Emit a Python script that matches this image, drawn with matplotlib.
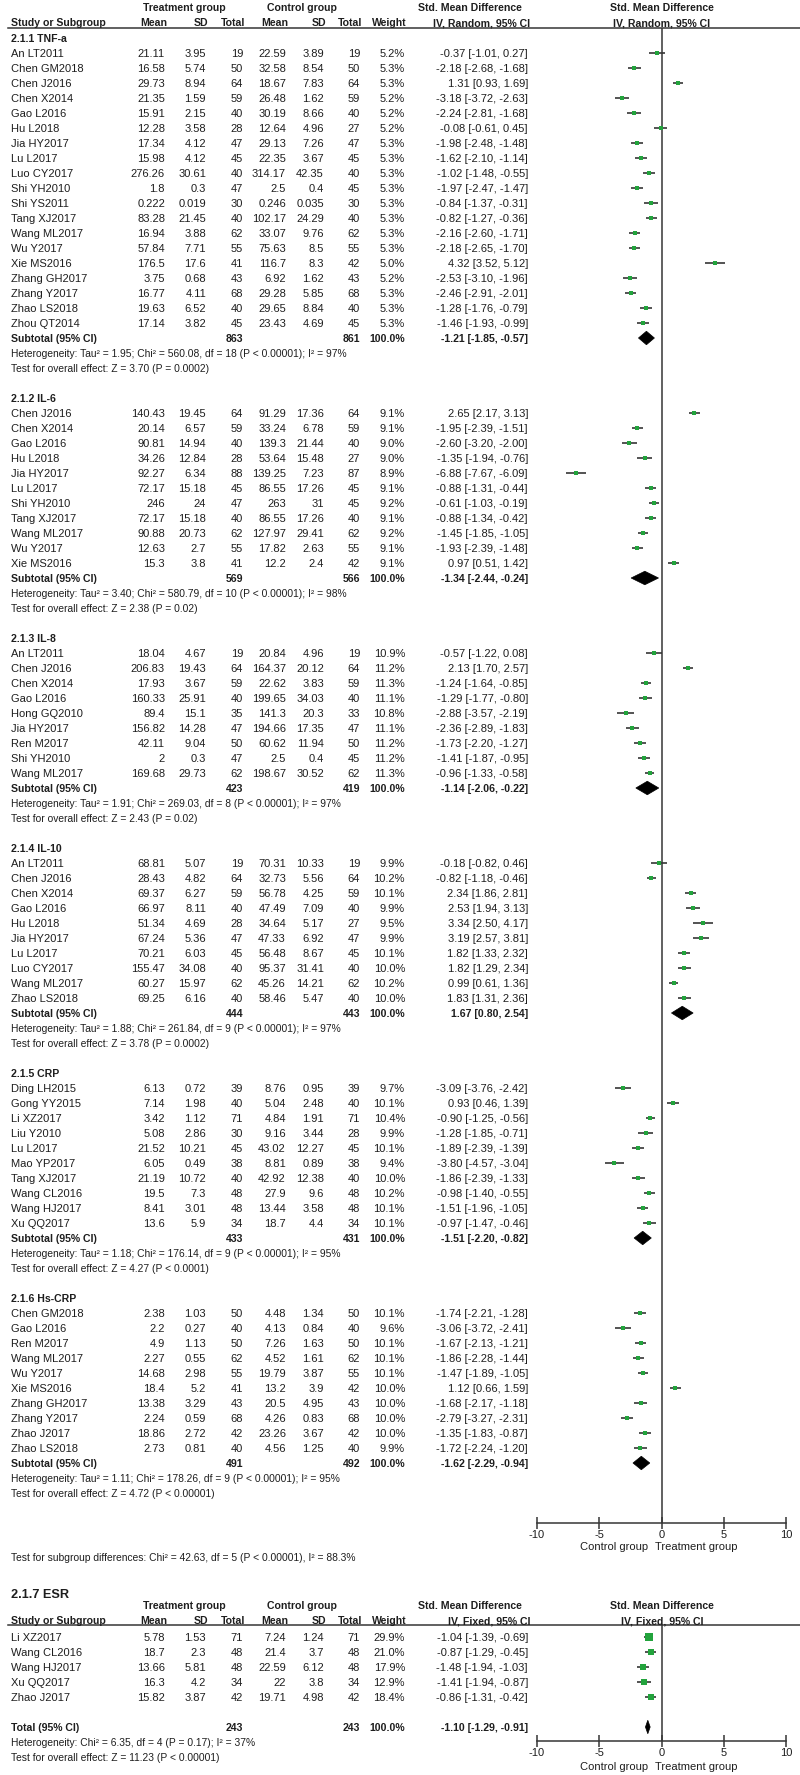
import numpy as np
import matplotlib.pyplot as plt
from matplotlib.patches import Polygon

plt.rcParams['font.family'] = ['Liberation Sans', 'DejaVu Sans']
plt.rcParams['axes.unicode_minus'] = False

# ---------------- data ----------------
# each study: treatment (mean, sd, n), control (mean, sd, n), weight %, smd (est, lo, hi)
tnf_studies = ["An LT2011", "Chen GM2018", "Chen J2016", "Chen X2014", "Gao L2016", "Hu L2018",
               "Jia HY2017", "Lu L2017", "Luo CY2017", "Shi YH2010", "Shi YS2011", "Tang XJ2017",
               "Wang ML2017", "Wu Y2017", "Xie MS2016", "Zhang GH2017", "Zhang Y2017",
               "Zhao LS2018", "Zhou QT2014"]
tnf_treat = [(21.11, 3.95, 19), (16.58, 5.74, 50), (29.73, 8.94, 64), (21.35, 1.59, 59),
             (15.91, 2.15, 40), (12.28, 3.58, 28), (17.34, 4.12, 47), (15.98, 4.12, 45),
             (276.26, 30.61, 40), (1.8, 0.3, 47), (0.222, 0.019, 30), (83.28, 21.45, 40),
             (16.94, 3.88, 62), (57.84, 7.71, 55), (176.5, 17.6, 41), (3.75, 0.68, 43),
             (16.77, 4.11, 68), (19.63, 6.52, 40), (17.14, 3.82, 45)]
tnf_ctrl = [(22.59, 3.89, 19), (32.58, 8.54, 50), (18.67, 7.83, 64), (26.48, 1.62, 59),
            (30.19, 8.66, 40), (12.64, 4.96, 27), (29.13, 7.26, 47), (22.35, 3.67, 45),
            (314.17, 42.35, 40), (2.5, 0.4, 45), (0.246, 0.035, 30), (102.17, 24.29, 40),
            (33.07, 9.76, 62), (75.63, 8.5, 55), (116.7, 8.3, 42), (6.92, 1.62, 43),
            (29.28, 5.85, 68), (29.65, 8.84, 40), (23.43, 4.69, 45)]
tnf_weight = [5.2, 5.3, 5.3, 5.2, 5.2, 5.2, 5.3, 5.3, 5.3, 5.3, 5.3, 5.3, 5.3, 5.3, 5.0, 5.2, 5.3, 5.3, 5.3]
tnf_smd = [(-0.37, -1.01, 0.27), (-2.18, -2.68, -1.68), (1.31, 0.93, 1.69), (-3.18, -3.72, -2.63),
           (-2.24, -2.81, -1.68), (-0.08, -0.61, 0.45), (-1.98, -2.48, -1.48), (-1.62, -2.10, -1.14),
           (-1.02, -1.48, -0.55), (-1.97, -2.47, -1.47), (-0.84, -1.37, -0.31), (-0.82, -1.27, -0.36),
           (-2.16, -2.60, -1.71), (-2.18, -2.65, -1.70), (4.32, 3.52, 5.12), (-2.53, -3.10, -1.96),
           (-2.46, -2.91, -2.01), (-1.28, -1.76, -0.79), (-1.46, -1.93, -0.99)]
tnf_sub = (863, 861, -1.21, -1.85, -0.57)
tnf_het = "Tau² = 1.95; Chi² = 560.08, df = 18 (P < 0.00001); I² = 97%"
tnf_z = "Z = 3.70 (P = 0.0002)"

il6_studies = ["Chen J2016", "Chen X2014", "Gao L2016", "Hu L2018", "Jia HY2017", "Lu L2017",
               "Shi YH2010", "Tang XJ2017", "Wang ML2017", "Wu Y2017", "Xie MS2016"]
il6_treat = [(140.43, 19.45, 64), (20.14, 6.57, 59), (90.81, 14.94, 40), (34.26, 12.84, 28),
             (92.27, 6.34, 88), (72.17, 15.18, 45), (246, 24, 47), (72.17, 15.18, 40),
             (90.88, 20.73, 62), (12.63, 2.7, 55), (15.3, 3.8, 41)]
il6_ctrl = [(91.29, 17.36, 64), (33.24, 6.78, 59), (139.3, 21.44, 40), (53.64, 15.48, 27),
            (139.25, 7.23, 87), (86.55, 17.26, 45), (263, 31, 45), (86.55, 17.26, 40),
            (127.97, 29.41, 62), (17.82, 2.63, 55), (12.2, 2.4, 42)]
il6_weight = [9.1, 9.1, 9.0, 9.0, 8.9, 9.1, 9.2, 9.1, 9.2, 9.1, 9.1]
il6_smd = [(2.65, 2.17, 3.13), (-1.95, -2.39, -1.51), (-2.60, -3.20, -2.00), (-1.35, -1.94, -0.76),
           (-6.88, -7.67, -6.09), (-0.88, -1.31, -0.44), (-0.61, -1.03, -0.19), (-0.88, -1.34, -0.42),
           (-1.45, -1.85, -1.05), (-1.93, -2.39, -1.48), (0.97, 0.51, 1.42)]
il6_sub = (569, 566, -1.34, -2.44, -0.24)
il6_het = "Tau² = 3.40; Chi² = 580.79, df = 10 (P < 0.00001); I² = 98%"
il6_z = "Z = 2.38 (P = 0.02)"

il8_studies = ["An LT2011", "Chen J2016", "Chen X2014", "Gao L2016", "Hong GQ2010", "Jia HY2017",
               "Ren M2017", "Shi YH2010", "Wang ML2017"]
il8_treat = [(18.04, 4.67, 19), (206.83, 19.43, 64), (17.93, 3.67, 59), (160.33, 25.91, 40),
             (89.4, 15.1, 35), (156.82, 14.28, 47), (42.11, 9.04, 50), (2, 0.3, 47),
             (169.68, 29.73, 62)]
il8_ctrl = [(20.84, 4.96, 19), (164.37, 20.12, 64), (22.62, 3.83, 59), (199.65, 34.03, 40),
            (141.3, 20.3, 33), (194.66, 17.35, 47), (60.62, 11.94, 50), (2.5, 0.4, 45),
            (198.67, 30.52, 62)]
il8_weight = [10.9, 11.2, 11.3, 11.1, 10.8, 11.1, 11.2, 11.2, 11.3]
il8_smd = [(-0.57, -1.22, 0.08), (2.13, 1.70, 2.57), (-1.24, -1.64, -0.85), (-1.29, -1.77, -0.80),
           (-2.88, -3.57, -2.19), (-2.36, -2.89, -1.83), (-1.73, -2.20, -1.27), (-1.41, -1.87, -0.95),
           (-0.96, -1.33, -0.58)]
il8_sub = (423, 419, -1.14, -2.06, -0.22)
il8_het = "Tau² = 1.91; Chi² = 269.03, df = 8 (P < 0.00001); I² = 97%"
il8_z = "Z = 2.43 (P = 0.02)"

il10_studies = ["An LT2011", "Chen J2016", "Chen X2014", "Gao L2016", "Hu L2018", "Jia HY2017",
                "Lu L2017", "Luo CY2017", "Wang ML2017", "Zhao LS2018"]
il10_treat = [(68.81, 5.07, 19), (28.43, 4.82, 64), (69.37, 6.27, 59), (66.97, 8.11, 40),
              (51.34, 4.69, 28), (67.24, 5.36, 47), (70.21, 6.03, 45), (155.47, 34.08, 40),
              (60.27, 15.97, 62), (69.25, 6.16, 40)]
il10_ctrl = [(70.31, 10.33, 19), (32.73, 5.56, 64), (56.78, 4.25, 59), (47.49, 7.09, 40),
             (34.64, 5.17, 27), (47.33, 6.92, 47), (56.48, 8.67, 45), (95.37, 31.41, 40),
             (45.26, 14.21, 62), (58.46, 5.47, 40)]
il10_weight = [9.9, 10.2, 10.1, 9.9, 9.5, 9.9, 10.1, 10.0, 10.2, 10.0]
il10_smd = [(-0.18, -0.82, 0.46), (-0.82, -1.18, -0.46), (2.34, 1.86, 2.81), (2.53, 1.94, 3.13),
            (3.34, 2.50, 4.17), (3.19, 2.57, 3.81), (1.82, 1.33, 2.32), (1.82, 1.29, 2.34),
            (0.99, 0.61, 1.36), (1.83, 1.31, 2.36)]
il10_sub = (444, 443, 1.67, 0.80, 2.54)
il10_het = "Tau² = 1.88; Chi² = 261.84, df = 9 (P < 0.00001); I² = 97%"
il10_z = "Z = 3.78 (P = 0.0002)"

crp_studies = ["Ding LH2015", "Gong YY2015", "Li XZ2017", "Liu Y2010", "Lu L2017", "Mao YP2017",
               "Tang XJ2017", "Wang CL2016", "Wang HJ2017", "Xu QQ2017"]
crp_treat = [(6.13, 0.72, 39), (7.14, 1.98, 40), (3.42, 1.12, 71), (5.08, 2.86, 30),
             (21.52, 10.21, 45), (6.05, 0.49, 38), (21.19, 10.72, 40), (19.5, 7.3, 48),
             (8.41, 3.01, 48), (13.6, 5.9, 34)]
crp_ctrl = [(8.76, 0.95, 39), (5.04, 2.48, 40), (4.84, 1.91, 71), (9.16, 3.44, 28),
            (43.02, 12.27, 45), (8.81, 0.89, 38), (42.92, 12.38, 40), (27.9, 9.6, 48),
            (13.44, 3.58, 48), (18.7, 4.4, 34)]
crp_weight = [9.7, 10.1, 10.4, 9.9, 10.1, 9.4, 10.0, 10.2, 10.1, 10.1]
crp_smd = [(-3.09, -3.76, -2.42), (0.93, 0.46, 1.39), (-0.90, -1.25, -0.56), (-1.28, -1.85, -0.71),
           (-1.89, -2.39, -1.39), (-3.80, -4.57, -3.04), (-1.86, -2.39, -1.33), (-0.98, -1.40, -0.55),
           (-1.51, -1.96, -1.05), (-0.97, -1.47, -0.46)]
crp_sub = (433, 431, -1.51, -2.20, -0.82)
crp_het = "Tau² = 1.18; Chi² = 176.14, df = 9 (P < 0.00001); I² = 95%"
crp_z = "Z = 4.27 (P < 0.0001)"

hscrp_studies = ["Chen GM2018", "Gao L2016", "Ren M2017", "Wang ML2017", "Wu Y2017", "Xie MS2016",
                 "Zhang GH2017", "Zhang Y2017", "Zhao J2017", "Zhao LS2018"]
hscrp_treat = [(2.38, 1.03, 50), (2.2, 0.27, 40), (4.9, 1.13, 50), (2.27, 0.55, 62),
               (14.68, 2.98, 55), (18.4, 5.2, 41), (13.38, 3.29, 43), (2.24, 0.59, 68),
               (18.86, 2.72, 42), (2.73, 0.81, 40)]
hscrp_ctrl = [(4.48, 1.34, 50), (4.13, 0.84, 40), (7.26, 1.63, 50), (4.52, 1.61, 62),
              (19.79, 3.87, 55), (13.2, 3.9, 42), (20.5, 4.95, 43), (4.26, 0.83, 68),
              (23.26, 3.67, 42), (4.56, 1.25, 40)]
hscrp_weight = [10.1, 9.6, 10.1, 10.1, 10.1, 10.0, 10.0, 10.0, 10.0, 9.9]
hscrp_smd = [(-1.74, -2.21, -1.28), (-3.06, -3.72, -2.41), (-1.67, -2.13, -1.21), (-1.86, -2.28, -1.44),
             (-1.47, -1.89, -1.05), (1.12, 0.66, 1.59), (-1.68, -2.17, -1.18), (-2.79, -3.27, -2.31),
             (-1.35, -1.83, -0.87), (-1.72, -2.24, -1.20)]
hscrp_sub = (491, 492, -1.62, -2.29, -0.94)
hscrp_het = "Tau² = 1.11; Chi² = 178.26, df = 9 (P < 0.00001); I² = 95%"
hscrp_z = "Z = 4.72 (P < 0.00001)"

subgroup_test = "Test for subgroup differences: Chi² = 42.63, df = 5 (P < 0.00001), I² = 88.3%"

esr_studies = ["Li XZ2017", "Wang CL2016", "Wang HJ2017", "Xu QQ2017", "Zhao J2017"]
esr_treat = [(5.78, 1.53, 71), (18.7, 2.3, 48), (13.66, 5.81, 48), (16.3, 4.2, 34), (15.82, 3.87, 42)]
esr_ctrl = [(7.24, 1.24, 71), (21.4, 3.7, 48), (22.59, 6.12, 48), (22, 3.8, 34), (19.71, 4.98, 42)]
esr_weight = [29.9, 21.0, 17.9, 12.9, 18.4]
esr_smd = [(-1.04, -1.39, -0.69), (-0.87, -1.29, -0.45), (-1.48, -1.94, -1.03),
           (-1.41, -1.94, -0.87), (-0.86, -1.31, -0.42)]
esr_total = (243, 243, -1.10, -1.29, -0.91)
esr_het = "Chi² = 6.35, df = 4 (P = 0.17); I² = 37%"
esr_z = "Z = 11.23 (P < 0.00001)"

ticks = [-10, -5, 0, 5, 10]

groups = [
    ("2.1.1 TNF-a", tnf_studies, tnf_treat, tnf_ctrl, tnf_weight, tnf_smd, tnf_sub, tnf_het, tnf_z),
    ("2.1.2 IL-6", il6_studies, il6_treat, il6_ctrl, il6_weight, il6_smd, il6_sub, il6_het, il6_z),
    ("2.1.3 IL-8", il8_studies, il8_treat, il8_ctrl, il8_weight, il8_smd, il8_sub, il8_het, il8_z),
    ("2.1.4 IL-10", il10_studies, il10_treat, il10_ctrl, il10_weight, il10_smd, il10_sub, il10_het, il10_z),
    ("2.1.5 CRP", crp_studies, crp_treat, crp_ctrl, crp_weight, crp_smd, crp_sub, crp_het, crp_z),
    ("2.1.6 Hs-CRP", hscrp_studies, hscrp_treat, hscrp_ctrl, hscrp_weight, hscrp_smd, hscrp_sub, hscrp_het, hscrp_z),
]

# ---------------- layout (pixels) ----------------
W, H = 800, 1775
TXT = '#1e1e1e'
GREEN = '#22a33c'
LINE = '#363636'
FS = 8.0      # study rows
FSB = 7.6     # bold header rows
FSH = 7.4     # heterogeneity lines
COLS = [165, 206, 243, 286, 324, 360, 405, 528]
X0_PX, X1_PX = 537, 786   # -10 .. 10 on the forest axis

fig = plt.figure(figsize=(W / 100, H / 100), dpi=100)
ax = fig.add_axes([0, 0, 1, 1])
ax.set_xlim(0, W)
ax.set_ylim(H, 0)
ax.axis('off')


def fmt(v):
    return f"{v:g}"


def ci_text(e, lo, hi):
    return f"{e:.2f} [{lo:.2f}, {hi:.2f}]"


def table_row(y, name, tr, ct, w, smd):
    ax.text(11, y, name, fontsize=FS, color=TXT, va='center_baseline')
    vals = [fmt(tr[0]), fmt(tr[1]), str(tr[2]), fmt(ct[0]), fmt(ct[1]), str(ct[2]),
            f"{w:.1f}%", ci_text(*smd)]
    for x, v in zip(COLS, vals):
        ax.text(x, y, v, fontsize=FS, color=TXT, ha='right', va='center_baseline')


def total_row(y, label, tot):
    ax.text(11, y, label, fontsize=FSB, color=TXT, weight='bold', va='center_baseline')
    for x, v in zip([COLS[2], COLS[5], COLS[6], COLS[7]],
                    [str(tot[0]), str(tot[1]), "100.0%", ci_text(*tot[2:])]):
        ax.text(x, y, v, fontsize=FSB, color=TXT, weight='bold', ha='right', va='center_baseline')


def header(y1, y2, yrule, method):
    kw = dict(fontsize=FSB, color=TXT, weight='bold', va='center_baseline')
    ax.text(184, y1, "Treatment group", ha='center', **kw)
    ax.text(302, y1, "Control group", ha='center', **kw)
    ax.text(470, y1, "Std. Mean Difference", ha='center', **kw)
    ax.text(662, y1, "Std. Mean Difference", ha='center', **kw)
    ax.text(11, y2, "Study or Subgroup", **kw)
    for x, t in zip(COLS, ["Mean", "SD", "Total", "Mean", "SD", "Total", "Weight", method]):
        ax.text(x + 2, y2, t, ha='right', **kw)
    ax.text(662, y2, method, ha='center', **kw)
    ax.plot([8, W], [yrule, yrule], color=LINE, lw=1.1)


def forest_axes(top_px, bottom_px, y_of_row0, pitch):
    fa = fig.add_axes([X0_PX / W, 1 - bottom_px / H, (X1_PX - X0_PX) / W, (bottom_px - top_px) / H])
    fa.set_xlim(ticks[0], ticks[-1])
    fa.set_ylim((bottom_px - y_of_row0) / pitch, (top_px - y_of_row0) / pitch)
    fa.patch.set_alpha(0)
    for s in ['top', 'right', 'left']:
        fa.spines[s].set_visible(False)
    fa.spines['bottom'].set_color(LINE)
    fa.spines['bottom'].set_linewidth(1.1)
    fa.set_yticks([])
    fa.set_xticks(ticks)
    fa.set_xticklabels([str(t) for t in ticks])
    fa.tick_params(axis='x', direction='inout', length=8, width=1.1, color=LINE,
                   labelsize=FS, labelcolor=TXT, pad=1)
    fa.axvline(0, color=LINE, lw=1.1)
    return fa


def draw_study(fa, r, w, smd):
    e, lo, hi = smd
    fa.plot([lo, hi], [r, r], color=LINE, lw=1.2, solid_capstyle='butt')
    fa.plot(e, r, marker='s', ms=2.2 + 0.12 * w, color=GREEN, mec=GREEN, mew=0)


def draw_diamond(fa, r, e, lo, hi, h=0.45):
    fa.add_patch(Polygon([[lo, r], [e, r - h], [hi, r], [e, r + h]], closed=True,
                         fc='black', ec='black', lw=0.5))


# ---------------- main analysis ----------------
ROW0, PITCH = 38, 15
header(7, 22, 28, "IV, Random, 95% CI")
fmain = forest_axes(28, 1523, ROW0, PITCH)

r = 0
for title, studies, tr, ct, wt, smd, sub, het, z in groups:
    ax.text(11, ROW0 + PITCH * r, title, fontsize=FSB, color=TXT, weight='bold', va='center_baseline')
    r += 1
    for i in range(len(studies)):
        table_row(ROW0 + PITCH * r, studies[i], tr[i], ct[i], wt[i], smd[i])
        draw_study(fmain, r, wt[i], smd[i])
        r += 1
    total_row(ROW0 + PITCH * r, "Subtotal (95% CI)", sub)
    draw_diamond(fmain, r, *sub[2:])
    r += 1
    ax.text(11, ROW0 + PITCH * r, "Heterogeneity: " + het, fontsize=FSH, color=TXT, va='center_baseline')
    r += 1
    ax.text(11, ROW0 + PITCH * r, "Test for overall effect: " + z, fontsize=FSH, color=TXT, va='center_baseline')
    r += 2

ax.text(648, 1546, "Control group", fontsize=FS, color=TXT, ha='right', va='center_baseline')
ax.text(655, 1546, "Treatment group", fontsize=FS, color=TXT, ha='left', va='center_baseline')
ax.text(11, 1557, subgroup_test, fontsize=FSH, color=TXT, va='center_baseline')

# ---------------- ESR ----------------
ax.text(11, 1594, "2.1.7 ESR", fontsize=9.2, color=TXT, weight='bold', va='center_baseline')
E0 = 1637
header(1605, 1620, 1625, "IV, Fixed, 95% CI")
fesr = forest_axes(1625, 1741, E0, PITCH)
for k in range(len(esr_studies)):
    table_row(E0 + PITCH * k, esr_studies[k], esr_treat[k], esr_ctrl[k], esr_weight[k], esr_smd[k])
    draw_study(fesr, k, esr_weight[k], esr_smd[k])
k = len(esr_studies) + 1
total_row(E0 + PITCH * k, "Total (95% CI)", esr_total)
draw_diamond(fesr, k, *esr_total[2:])
ax.text(11, E0 + PITCH * (k + 1), "Heterogeneity: " + esr_het, fontsize=FSH, color=TXT, va='center_baseline')
ax.text(11, E0 + PITCH * (k + 2), "Test for overall effect: " + esr_z, fontsize=FSH, color=TXT, va='center_baseline')
ax.text(648, 1766, "Control group", fontsize=FS, color=TXT, ha='right', va='center_baseline')
ax.text(655, 1766, "Treatment group", fontsize=FS, color=TXT, ha='left', va='center_baseline')

fig.savefig("out.png", dpi=100, facecolor='white')
